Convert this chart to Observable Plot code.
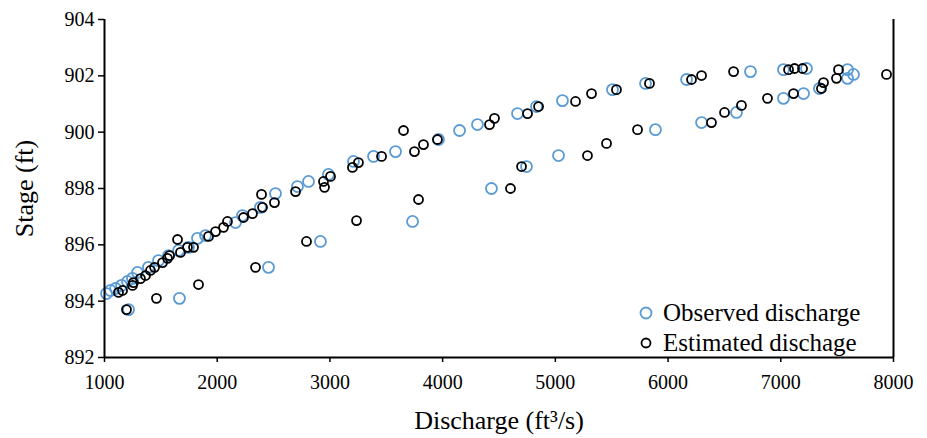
<!DOCTYPE html>
<html>
<head>
<meta charset="utf-8">
<script src="https://cdn.jsdelivr.net/npm/d3@7"></script>
<script src="https://cdn.jsdelivr.net/npm/@observablehq/plot@0.6"></script>
<style>
  html, body { margin: 0; padding: 0; background: #fff; }
  #wrap { position: relative; width: 927px; height: 438px; font-family: "Liberation Serif", "Times New Roman", "DejaVu Serif", serif; }
  #wrap svg text { font-family: "Liberation Serif", "Times New Roman", "DejaVu Serif", serif; }
  #legend { position: absolute; left: 636px; top: 298px; font-size: 25px; color: #000; line-height: 30px; }
  #legend .row { display: flex; align-items: center; white-space: nowrap; }
  #legend svg { margin-right: 7px; }
</style>
</head>
<body>
<div id="wrap"></div>
<script>
// Observed discharge (ft³/s) and stage (ft)
const obsQ = [1018,1053,1098,1151,1204,1248,1293,1390,1479,1568,1657,1745,1825,1896,2162,2224,2384,2517,2712,2810,2987,3209,3387,3582,3963,4150,4309,4664,4833,5063,5507,5800,6164,6731,7024,7228,7592,7645,7592,
              1213,1665,2455,2916,3733,4433,4744,5028,5888,6297,6607,7024,7202,7343];
const obsS = [894.27,894.38,894.45,894.56,894.70,894.81,895.02,895.20,895.44,895.62,895.80,895.91,896.23,896.33,896.79,897.04,897.33,897.82,898.07,898.25,898.50,898.96,899.14,899.31,899.74,900.06,900.27,900.66,900.91,901.12,901.51,901.73,901.87,902.15,902.22,902.26,902.22,902.05,901.91,
              893.70,894.10,895.20,896.12,896.83,898.00,898.78,899.17,900.09,900.34,900.70,901.20,901.37,901.55];
// Estimated discharge (ft³/s) and stage (ft)
const estQ = [1124,1160,1248,1257,1319,1364,1408,1444,1515,1559,1577,1674,1736,1790,1923,1985,2056,2091,2233,2313,2402,2508,2695,2943,2952,3005,3200,3253,3458,3750,3830,3954,4416,4460,4753,4851,5179,5321,5542,5835,6208,6297,6581,7069,7122,7193,7512,7494,7379,7361,7938,
              1648,1195,1461,1834,2340,2393,2792,3236,3653,3786,4602,4700,5285,5454,5729,6385,6501,6651,6882,7113];
const estS = [894.31,894.38,894.56,894.66,894.80,894.91,895.09,895.20,895.37,895.52,895.62,895.73,895.91,895.91,896.30,896.47,896.62,896.83,896.97,897.11,897.33,897.50,897.89,898.25,898.04,898.43,898.75,898.92,899.14,899.31,899.56,899.74,900.27,900.49,900.66,900.91,901.09,901.37,901.51,901.73,901.87,902.01,902.15,902.22,902.26,902.26,902.22,901.91,901.76,901.55,902.05,
              896.19,893.70,894.10,894.59,895.20,897.79,896.12,896.86,900.06,897.61,898.00,898.78,899.17,899.60,900.09,900.34,900.70,900.95,901.20,901.37];

const xTicks = [1000,2000,3000,4000,5000,6000,7000,8000];
const yTicks = [892,894,896,898,900,902,904];
const seriesNames = ["Observed discharge", "Estimated dischage"];
const colors = ["#5B9BD5", "#000000"];

const observed = obsQ.map((q, i) => ({q, s: obsS[i]}));
const estimated = estQ.map((q, i) => ({q, s: estS[i]}));

const serif = "'Liberation Serif', 'Times New Roman', 'DejaVu Serif', serif";
const chart = Plot.plot({
  width: 927,
  height: 438,
  marginTop: 19,
  marginBottom: 81,
  marginLeft: 104,
  marginRight: 34,
  style: { fontFamily: serif, fontSize: "20px", color: "#000", background: "#fff", overflow: "visible" },
  x: { domain: [1000, 8000] },
  y: { domain: [892, 904] },
  marks: [
    Plot.ruleX([8000], { stroke: "#000", strokeWidth: 2 }),
    Plot.dot(observed, { x: "q", y: "s", r: 5.5, stroke: colors[0], strokeWidth: 1.8, fill: "none" }),
    Plot.dot(estimated, { x: "q", y: "s", r: 4.5, stroke: colors[1], strokeWidth: 1.8, fill: "none" }),
    Plot.axisX({ ticks: xTicks, tickFormat: d => String(d), tickSize: 5, tickPadding: 12, fontSize: 20, strokeWidth: 1.5,
      label: "Discharge (ft³/s)", labelAnchor: "center", labelArrow: "none", labelOffset: 71 }),
    Plot.axisY({ ticks: yTicks, tickFormat: d => String(d), tickSize: 6, tickPadding: 4, fontSize: 20, strokeWidth: 1.5,
      label: "Stage (ft)", labelAnchor: "center", labelArrow: "none", labelOffset: 90 }),
    Plot.ruleX([1000], { stroke: "#000", strokeWidth: 2 }),
    Plot.ruleY([892], { stroke: "#000", strokeWidth: 2 })
  ]
});
chart.querySelectorAll("g[aria-label='x-axis label'] text, g[aria-label='y-axis label'] text").forEach(t => t.setAttribute("font-size", "26"));
const wrap = document.getElementById("wrap");
wrap.appendChild(chart);

const legend = document.createElement("div");
legend.id = "legend";
seriesNames.forEach((name, i) => {
  const row = document.createElement("div");
  row.className = "row";
  const r = i === 0 ? 5.5 : 4.5;
  row.innerHTML = `<svg width="20" height="20"><circle cx="10" cy="10" r="${r}" fill="none" stroke="${colors[i]}" stroke-width="1.8"/></svg><span>${name}</span>`;
  legend.appendChild(row);
});
wrap.appendChild(legend);
</script>
</body>
</html>
